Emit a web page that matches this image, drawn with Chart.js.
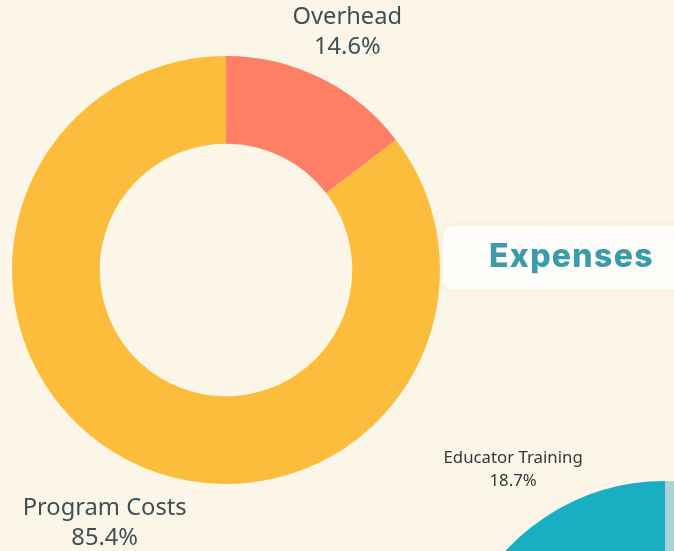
<!DOCTYPE html>
<html>
<head>
<meta charset="utf-8">
<script src="https://cdn.jsdelivr.net/npm/chart.js@4.4.1/dist/chart.umd.min.js"></script>
<style>
  html, body { margin: 0; padding: 0; }
  body {
    width: 674px; height: 551px; overflow: hidden; position: relative;
    background: #fcf6e8;
  }
  #expenseWrap { position: absolute; left: 0; top: 0; width: 674px; height: 551px; }
  #programWrap { position: absolute; left: 400px; top: 420px; width: 600px; height: 600px; }
  .title-box {
    position: absolute; left: 443px; top: 226px; width: 260px; height: 64px;
    background: #fffdf9; border-radius: 10px;
    box-shadow: 0 0 6px rgba(240, 225, 195, 0.6);
    font-family: Inter, "Open Sans", sans-serif; font-weight: 800; font-size: 32px;
    letter-spacing: 1.3px;
    color: #3a9bab; line-height: 60px; padding-left: 46px; box-sizing: border-box;
  }
</style>
</head>
<body>
<div id="expenseWrap"><canvas id="expenseChart"></canvas></div>
<div class="title-box">Expenses</div>
<div id="programWrap"><canvas id="programChart"></canvas></div>
<script>
// main donut: expenses split
const expenseLabels = ['Overhead', 'Program Costs'];
const expenseValues = [14.6, 85.4];
const expenseColors = ['#fe7f66', '#fbbd3b'];

// second donut (mostly cropped off at the bottom right)
const programLabels = ['', 'Educator Training'];
const programValues = [81.3, 18.7];
const programColors = ['#a7d4d3', '#1aaec3'];

// draws "label / xx.x%" outside each slice at its mid angle
const outerLabels = {
    id: 'outerLabels',
    afterDatasetsDraw(chart, args, opts) {
        const ctx = chart.ctx;
        const meta = chart.getDatasetMeta(0);
        const values = chart.data.datasets[0].data;
        ctx.save();
        ctx.fillStyle = opts.color;
        ctx.font = opts.size + 'px "Noto Sans", "Open Sans", sans-serif';
        ctx.textAlign = 'center';
        ctx.textBaseline = 'middle';
        meta.data.forEach((arc, i) => {
            const name = chart.data.labels[i];
            if (!name) return;
            const mid = (arc.startAngle + arc.endAngle) / 2;
            const r = arc.outerRadius + opts.offset;
            const x = arc.x + Math.cos(mid) * r;
            const y = arc.y + Math.sin(mid) * r + opts.dy;
            ctx.fillText(name, x, y - opts.lineGap / 2);
            ctx.fillText(values[i].toFixed(1) + '%', x, y + opts.lineGap / 2);
        });
        ctx.restore();
    }
};

new Chart(document.getElementById('expenseChart'), {
    type: 'doughnut',
    data: {
        labels: expenseLabels,
        datasets: [{
            data: expenseValues,
            backgroundColor: expenseColors,
            borderWidth: 0
        }]
    },
    options: {
        responsive: true,
        maintainAspectRatio: false,
        animation: false,
        cutout: '59%',
        layout: { padding: { left: 12, right: 234, top: 56, bottom: 67 } },
        plugins: {
            legend: { display: false },
            tooltip: { enabled: false },
            outerLabels: { color: '#3e4f55', size: 23.7, offset: 60, lineGap: 30, dy: 8 }
        }
    },
    plugins: [outerLabels]
});

new Chart(document.getElementById('programChart'), {
    type: 'doughnut',
    data: {
        labels: programLabels,
        datasets: [{
            data: programValues,
            backgroundColor: programColors,
            borderWidth: 0
        }]
    },
    options: {
        responsive: true,
        maintainAspectRatio: false,
        animation: false,
        cutout: '59%',
        layout: { padding: { left: 48, right: 118, top: 61, bottom: 105 } },
        plugins: {
            legend: { display: false },
            tooltip: { enabled: false },
            outerLabels: { color: '#2f3a3e', size: 16.8, offset: 57, lineGap: 23, dy: 0 }
        }
    },
    plugins: [outerLabels]
});
</script>
</body>
</html>
